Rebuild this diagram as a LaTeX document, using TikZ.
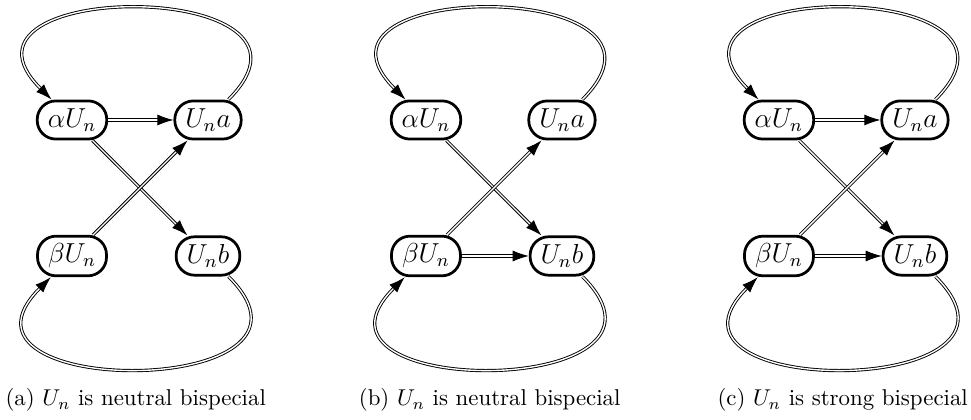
\documentclass[tikz,border=0pt]{standalone}
\usepackage{amsmath, amssymb}
\usepackage{tikz}
\usetikzlibrary{arrows.meta, positioning, calc}
\tikzset{
	factor/.style={draw, line width=1.2pt, rounded corners=8.1pt, minimum height=16.3pt, inner xsep=4.6pt, font=\large},
	ext/.style={draw, double, double distance=0.6pt, line width=0.4pt, -{Latex[length=7pt,width=4.8pt]}},
	loopline/.style={ext, looseness=2.5}
}

\begin{document}
\begin{tikzpicture}
	\useasboundingbox (0,0) rectangle (14.915,-6.436);
	% Three extension graphs side by side
	\foreach \s/\dx/\kind in {a/0/neutral, b/5.437/neutral, c/10.859/strong}
	{
		\begin{scope}[xshift=\dx cm]
			\node[factor] (\s-al) at (1.106,-1.843) {$\alpha U_n$};
			\node[factor] (\s-ua) at (3.195,-1.843) {$U_n a$};
			\node[factor] (\s-be) at (1.106,-3.932) {$\beta U_n$};
			\node[factor] (\s-ub) at (3.195,-3.932) {$U_n b$};
			\node (\s-cap) at (2.085,-6.144) {(\s) $U_n$ is \kind{} bispecial};
			% Connections
			\draw[loopline] (\s-ua) to[out=45, in=135] (\s-al);
			\draw[loopline] (\s-ub) to[out=-45, in=-135] (\s-be);
			\draw[ext] (\s-al) -- (\s-ub);
			\draw[ext] (\s-be) -- (\s-ua);
		\end{scope}
	}
	% Horizontal edges
	\draw[ext] (a-al) -- (a-ua);
	\draw[ext] (b-be) -- (b-ub);
	\draw[ext] (c-al) -- (c-ua);
	\draw[ext] (c-be) -- (c-ub);
\end{tikzpicture}
\end{document}
